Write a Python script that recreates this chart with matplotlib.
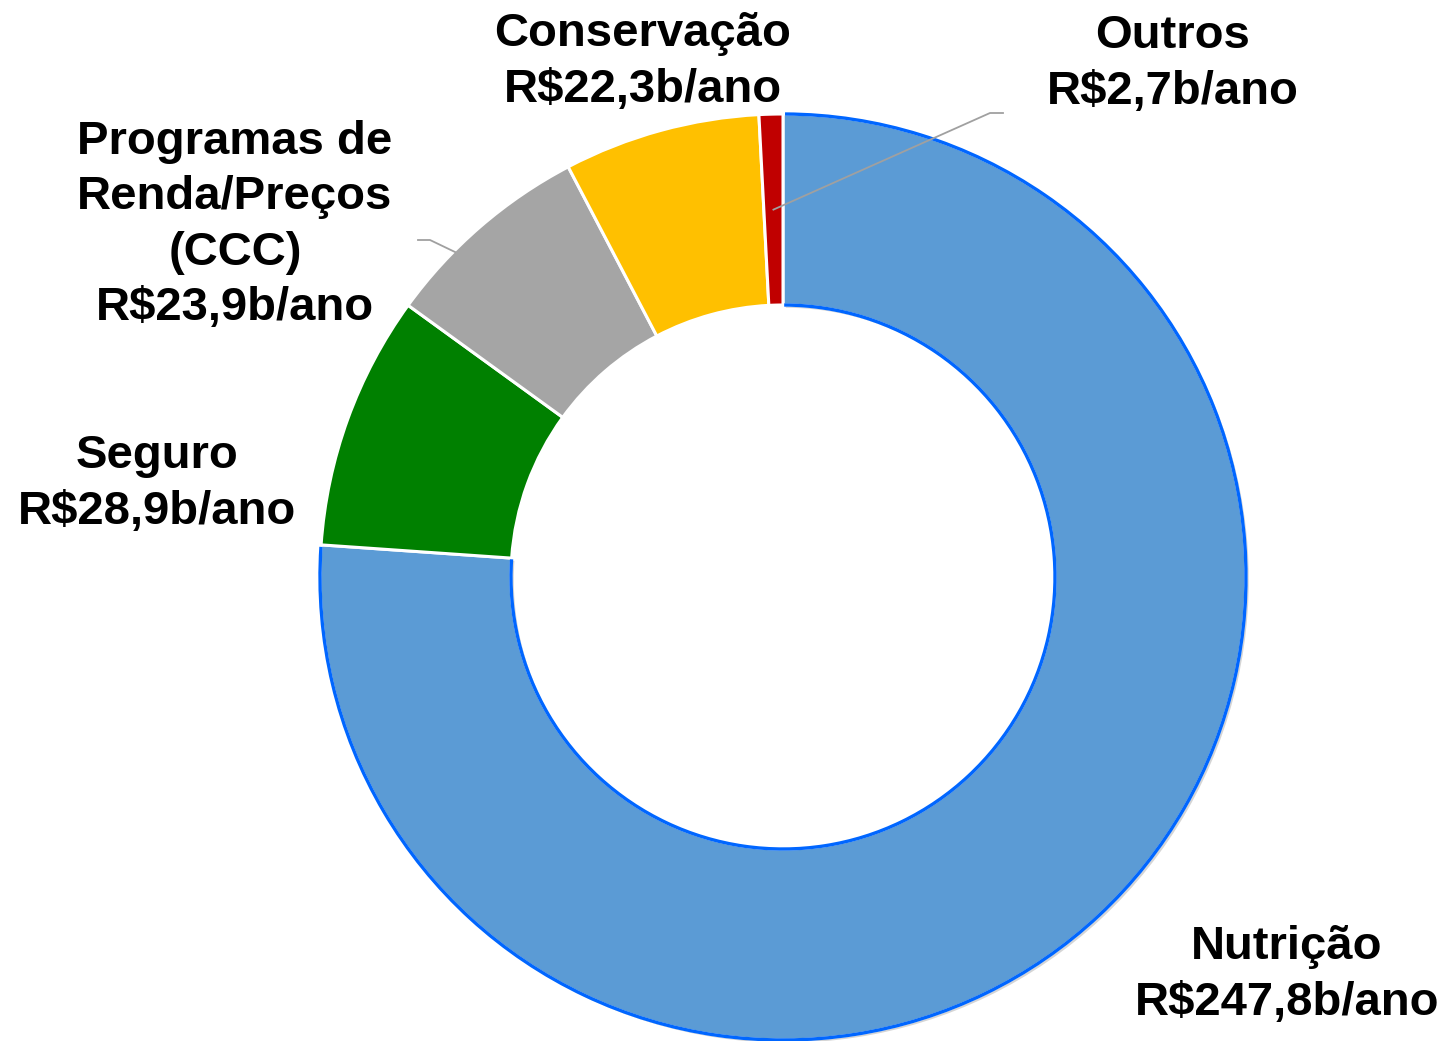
import matplotlib
matplotlib.use("Agg")
import matplotlib.pyplot as plt
from matplotlib.patches import Arc
import matplotlib.patheffects as pe
import numpy as np

categories = ["Nutrição", "Seguro", "Programas de\nRenda/Preços\n(CCC)", "Conservação", "Outros"]
values = [247.8, 28.9, 23.9, 22.3, 2.7]
value_labels = ["R$247,8b/ano", "R$28,9b/ano", "R$23,9b/ano", "R$22,3b/ano", "R$2,7b/ano"]
colors = ["#5B9BD5", "#008000", "#A5A5A5", "#FFC000", "#C00000"]

W, H = 1448, 1041
fig = plt.figure(figsize=(W / 100, H / 100), dpi=100)
ax = fig.add_axes([0, 0, 1, 1])

cx, cy = 783, H - 577
R_out, R_in = 463, 272

wedges, _ = ax.pie(values, colors=colors, startangle=90, counterclock=False,
                   radius=R_out, center=(cx, cy),
                   wedgeprops=dict(width=R_out - R_in, edgecolor="white", linewidth=2.2))
wedges[0].set_path_effects([pe.SimplePatchShadow(offset=(2, -2), shadow_rgbFace="#888888", alpha=0.35),
                            pe.Normal()])
for w in wedges[1:]:
    w.set_zorder(3)

# blue outline on the arcs of the first (Nutrição) wedge
w0 = wedges[0]
for r in (R_out, R_in):
    ax.add_patch(Arc((cx, cy), 2 * r, 2 * r, theta1=w0.theta1 + 0.25, theta2=w0.theta2 - 0.25,
                     color="#0066FF", lw=2.4, zorder=4))

ax.set_xlim(0, W)
ax.set_ylim(0, H)
ax.set_aspect("equal")
ax.axis("off")

# label positions (pixel coords: x, y from top)
label_pos = [(1287, 975), (157, 484), (235, 225), (643, 62), (1173, 64)]
for cat, vl, (px, py) in zip(categories, value_labels, label_pos):
    ax.text(px, H - py, f"{cat}\n{vl}", ha="center", va="center", fontsize=34,
            fontweight="bold", family="Liberation Sans", linespacing=1.34, color="black")

# leader lines
def mid_point(w, r):
    a = np.deg2rad((w.theta1 + w.theta2) / 2)
    return cx + r * np.cos(a), cy + r * np.sin(a)

x0, y0 = mid_point(wedges[4], (R_out + R_in) / 2)
ax.plot([x0, 990, 1003], [y0, H - 113, H - 113], color="#A0A0A0", lw=1.3, zorder=6)
ax.plot([455, 430, 418], [H - 252, H - 240, H - 240], color="#A0A0A0", lw=1.3, zorder=6)

fig.savefig("out.png", dpi=100)
